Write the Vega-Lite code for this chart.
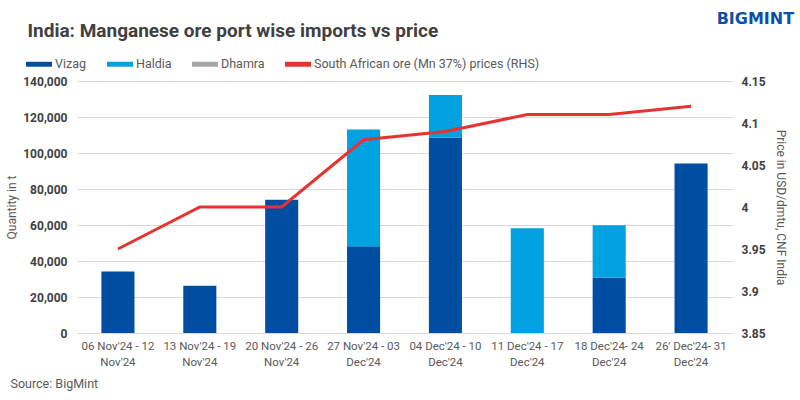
{
  "$schema": "https://vega.github.io/schema/vega-lite/v6.json",
  "width": 800,
  "height": 400,
  "autosize": {"type": "fit", "contains": "padding"},
  "padding": {"top": 11, "left": 5, "right": 5, "bottom": 10},
  "background": "white",
  "title": {
    "text": "BIGMINT",
    "anchor": "end",
    "frame": "bounds",
    "font": "DejaVu Sans",
    "fontSize": 16,
    "fontWeight": "bold",
    "color": "#0D4EA6",
    "offset": -6,
    "dx": 8
  },
  "config": {
    "font": "Roboto, sans-serif",
    "view": {"stroke": null},
    "axis": {
      "labelColor": "#595959",
      "titleColor": "#595959",
      "titleFontWeight": "normal",
      "titleFontSize": 12,
      "labelFontSize": 11.5
    },
    "legend": {
      "symbolType": "M-1,-0.19H1V0.19H-1Z",
      "symbolSize": 676,
      "symbolStrokeWidth": 0,
      "symbolOpacity": 1,
      "labelFontSize": 12.5,
      "labelColor": "#595959",
      "labelOffset": 3,
      "labelLimit": 400,
      "columnPadding": 20
    }
  },
  "datasets": {
    "imports": [
      {"week": "06 Nov'24 - 12 Nov'24", "port": "Vizag", "qty": 34200},
      {"week": "13 Nov'24 - 19 Nov'24", "port": "Vizag", "qty": 26300},
      {"week": "20 Nov'24 - 26 Nov'24", "port": "Vizag", "qty": 74000},
      {"week": "27 Nov'24 - 03 Dec'24", "port": "Vizag", "qty": 48200},
      {"week": "27 Nov'24 - 03 Dec'24", "port": "Haldia", "qty": 64900},
      {"week": "04 Dec'24 - 10 Dec'24", "port": "Vizag", "qty": 108600},
      {"week": "04 Dec'24 - 10 Dec'24", "port": "Haldia", "qty": 23600},
      {"week": "11 Dec'24 - 17 Dec'24", "port": "Haldia", "qty": 58200},
      {"week": "18 Dec'24- 24 Dec'24", "port": "Vizag", "qty": 30800},
      {"week": "18 Dec'24- 24 Dec'24", "port": "Haldia", "qty": 29100},
      {"week": "26' Dec'24- 31 Dec'24", "port": "Vizag", "qty": 94100}
    ],
    "price": [
      {"week": "06 Nov'24 - 12 Nov'24", "price": 3.95},
      {"week": "13 Nov'24 - 19 Nov'24", "price": 4.0},
      {"week": "20 Nov'24 - 26 Nov'24", "price": 4.0},
      {"week": "27 Nov'24 - 03 Dec'24", "price": 4.08},
      {"week": "04 Dec'24 - 10 Dec'24", "price": 4.09},
      {"week": "11 Dec'24 - 17 Dec'24", "price": 4.11},
      {"week": "18 Dec'24- 24 Dec'24", "price": 4.11},
      {"week": "26' Dec'24- 31 Dec'24", "price": 4.12}
    ]
  },
  "layer": [
    {
      "data": {"name": "imports"},
      "mark": {"type": "bar"},
      "encoding": {
        "x": {
          "field": "week",
          "type": "nominal",
          "sort": null,
          "scale": {"paddingInner": 0.596, "paddingOuter": 0.298},
          "axis": {
            "orient": "bottom",
            "labelAngle": 0,
            "labelExpr": "[slice(datum.label, 0, lastindexof(datum.label, ' ')), slice(datum.label, lastindexof(datum.label, ' ') + 1)]",
            "labelLineHeight": 16,
            "labelPadding": 7,
            "ticks": false,
            "domainColor": "#D9D9D9",
            "title": "Source: BigMint",
            "titleAnchor": "start",
            "titleAlign": "left",
            "titleBaseline": "alphabetic",
            "titleX": -67,
            "titleY": 54,
            "titleFontSize": 12.5
          }
        },
        "y": {
          "field": "qty",
          "type": "quantitative",
          "stack": "zero",
          "scale": {"domain": [0, 140000]},
          "axis": {
            "title": "Quantity in t",
            "values": [0, 20000, 40000, 60000, 80000, 100000, 120000, 140000],
            "format": ",d",
            "grid": true,
            "gridColor": "#D9D9D9",
            "domain": false,
            "ticks": false,
            "labelPadding": 10,
            "labelFontSize": 12,
            "labelFontWeight": "bold",
            "labelColor": "#404040",
            "titlePadding": 4
          }
        },
        "color": {
          "field": "port",
          "type": "nominal",
          "scale": {
            "domain": ["Vizag", "Haldia", "Dhamra", "South African ore (Mn 37%) prices (RHS)"],
            "range": ["#004EA2", "#00A2E1", "#A5A5A5", "#E8322F"]
          },
          "legend": {
            "title": null,
            "orient": "none",
            "direction": "horizontal",
            "legendX": -51,
            "legendY": -30
          }
        },
        "order": {"field": "port", "sort": "descending"}
      }
    },
    {
      "data": {"name": "price"},
      "mark": {"type": "line", "strokeWidth": 3},
      "encoding": {
        "x": {
          "field": "week",
          "type": "nominal",
          "sort": null,
          "axis": {
            "orient": "top",
            "labels": false,
            "ticks": false,
            "domain": false,
            "title": "India: Manganese ore port wise imports vs price",
            "titleAlign": "left",
            "titleBaseline": "alphabetic",
            "titleX": -50,
            "titleY": -45,
            "titleFontSize": 19,
            "titleFontWeight": "bold",
            "titleColor": "#404040"
          }
        },
        "y": {
          "field": "price",
          "type": "quantitative",
          "scale": {"domain": [3.85, 4.15], "zero": false},
          "axis": {
            "orient": "right",
            "title": "Price in USD/dmtu, CNF India",
            "values": [3.85, 3.9, 3.95, 4.0, 4.05, 4.1, 4.15],
            "format": ".2~f",
            "grid": false,
            "domain": false,
            "ticks": false,
            "labelPadding": 9,
            "labelFontSize": 12,
            "labelFontWeight": "bold",
            "labelColor": "#404040",
            "titlePadding": 8
          }
        },
        "color": {"datum": "South African ore (Mn 37%) prices (RHS)"}
      }
    }
  ],
  "resolve": {"scale": {"y": "independent"}, "axis": {"x": "independent"}}
}
